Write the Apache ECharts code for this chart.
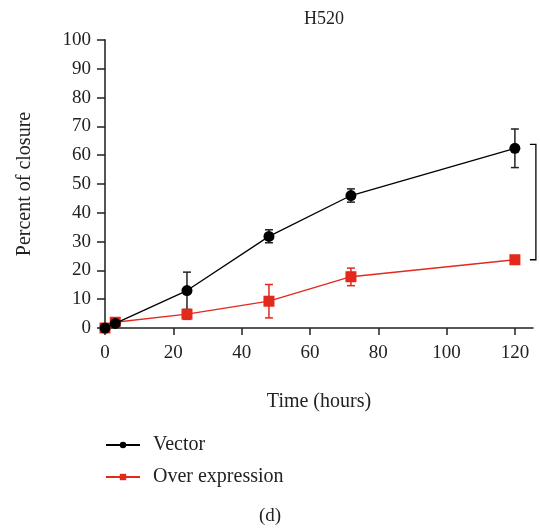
<!DOCTYPE html>
<html><head><meta charset="utf-8">
<script src="https://cdn.jsdelivr.net/npm/echarts@6/dist/echarts.min.js"></script>
<style>html,body{margin:0;padding:0;background:#fff}#c{width:540px;height:529px}</style>
</head><body><div id="c"></div>
<script>
const times = [0, 3, 24, 48, 72, 120];
const vectorMean = [0, 1.6, 13, 31.8, 46, 62.4];
const vectorLow  = [0, 1.0, 6.4, 29.6, 43.7, 55.7];
const vectorHigh = [0, 2.2, 19.4, 34.1, 48.3, 69.1];
const overMean = [0, 2, 4.8, 9.3, 17.8, 23.7];
const overLow  = [0, 1.2, 3.0, 3.5, 14.7, 22.7];
const overHigh = [0, 2.8, 6.4, 15.1, 20.8, 24.8];
const xTicks = [0, 20, 40, 60, 80, 100, 120];
const yTicks = [0, 10, 20, 30, 40, 50, 60, 70, 80, 90, 100];

const RED = '#e3281c';
const FONT = 'Liberation Serif';

function pairs(xs, ys) { return xs.map((x, i) => [x, ys[i]]); }
function errData(lo, hi) { return times.map((t, i) => [t, lo[i], hi[i]]); }

function errRender(color) {
  return function (params, api) {
    const x = api.value(0);
    const lo = api.coord([x, api.value(1)]);
    const hi = api.coord([x, api.value(2)]);
    const w = 4;
    const st = { stroke: color, lineWidth: 1.5 };
    return {
      type: 'group',
      children: [
        { type: 'line', shape: { x1: lo[0], y1: lo[1], x2: hi[0], y2: hi[1] }, style: st },
        { type: 'line', shape: { x1: lo[0] - w, y1: lo[1], x2: lo[0] + w, y2: lo[1] }, style: st },
        { type: 'line', shape: { x1: hi[0] - w, y1: hi[1], x2: hi[0] + w, y2: hi[1] }, style: st }
      ]
    };
  };
}

const chart = echarts.init(document.getElementById('c'), null, { renderer: 'canvas' });
const dLabel = {
  type: 'text', left: 'center', top: 507,
  style: { text: '(d)', font: '19px "Liberation Serif"', fill: '#222' }
};
const option = {
  animation: false,
  backgroundColor: '#fff',
  textStyle: { fontFamily: FONT },
  title: {
    text: 'H520', left: 319, top: 5, textAlign: 'center',
    textStyle: { fontFamily: FONT, fontWeight: 'normal', fontSize: 18, color: '#222' }
  },
  grid: { left: 105, right: 7, top: 40, bottom: 201, containLabel: false },
  xAxis: {
    type: 'value', min: 0, max: 125.3,
    name: 'Time (hours)', nameLocation: 'middle', nameGap: 64,
    nameTextStyle: { fontFamily: FONT, fontSize: 20, color: '#222' },
    axisLine: { lineStyle: { color: '#222', width: 1.5 } },
    axisTick: { customValues: xTicks, length: 7, lineStyle: { color: '#222', width: 1.5 } },
    axisLabel: { customValues: xTicks, fontFamily: FONT, fontSize: 19, color: '#222', margin: 16 },
    splitLine: { show: false }
  },
  yAxis: {
    type: 'value', min: 0, max: 100, interval: 10,
    name: 'Percent of closure', nameLocation: 'middle', nameGap: 70,
    nameTextStyle: { fontFamily: FONT, fontSize: 20, color: '#222' },
    axisLine: { show: true, lineStyle: { color: '#555', width: 2 } },
    axisTick: { show: true, length: 8, lineStyle: { color: '#222', width: 1.5 } },
    axisLabel: { fontFamily: FONT, fontSize: 19, color: '#222', margin: 14 },
    splitLine: { show: false }
  },
  legend: {
    orient: 'vertical', left: 100, top: 430, itemGap: 12,
    itemWidth: 34, itemHeight: 8,
    textStyle: { fontFamily: FONT, fontSize: 20, color: '#222', padding: [0, 0, 0, 8] },
    data: ['Vector', 'Over expression']
  },
  series: [
    {
      name: 'Vector', type: 'line', data: pairs(times, vectorMean),
      symbol: 'circle', symbolSize: 11, clip: false, z: 5,
      lineStyle: { color: '#000', width: 1.3 },
      itemStyle: { color: '#000' }
    },
    {
      name: 'Over expression', type: 'line', data: pairs(times, overMean),
      symbol: 'rect', symbolSize: 11, clip: false, z: 4,
      lineStyle: { color: RED, width: 1.3 },
      itemStyle: { color: RED }
    },
    {
      type: 'custom', data: errData(vectorLow, vectorHigh), renderItem: errRender('#222'),
      clip: false, z: 3, silent: true
    },
    {
      type: 'custom', data: errData(overLow, overHigh), renderItem: errRender(RED),
      clip: false, z: 2, silent: true
    }
  ],
  graphic: [dLabel]
};
chart.setOption(option);

// significance bracket between final means
const last = times.length - 1;
const pTop = chart.convertToPixel({ gridIndex: 0 }, [times[last], vectorMean[last]]);
const pBot = chart.convertToPixel({ gridIndex: 0 }, [times[last], overMean[last]]);
const bx = pTop[0] + 21;
chart.setOption({
  graphic: [
    dLabel,
    {
      type: 'polyline',
      shape: { points: [[bx - 6, pTop[1] - 4], [bx, pTop[1] - 4], [bx, pBot[1]], [bx - 6, pBot[1]]] },
      style: { stroke: '#000', lineWidth: 1.3, fill: null }
    }
  ]
});
</script>
</body></html>
